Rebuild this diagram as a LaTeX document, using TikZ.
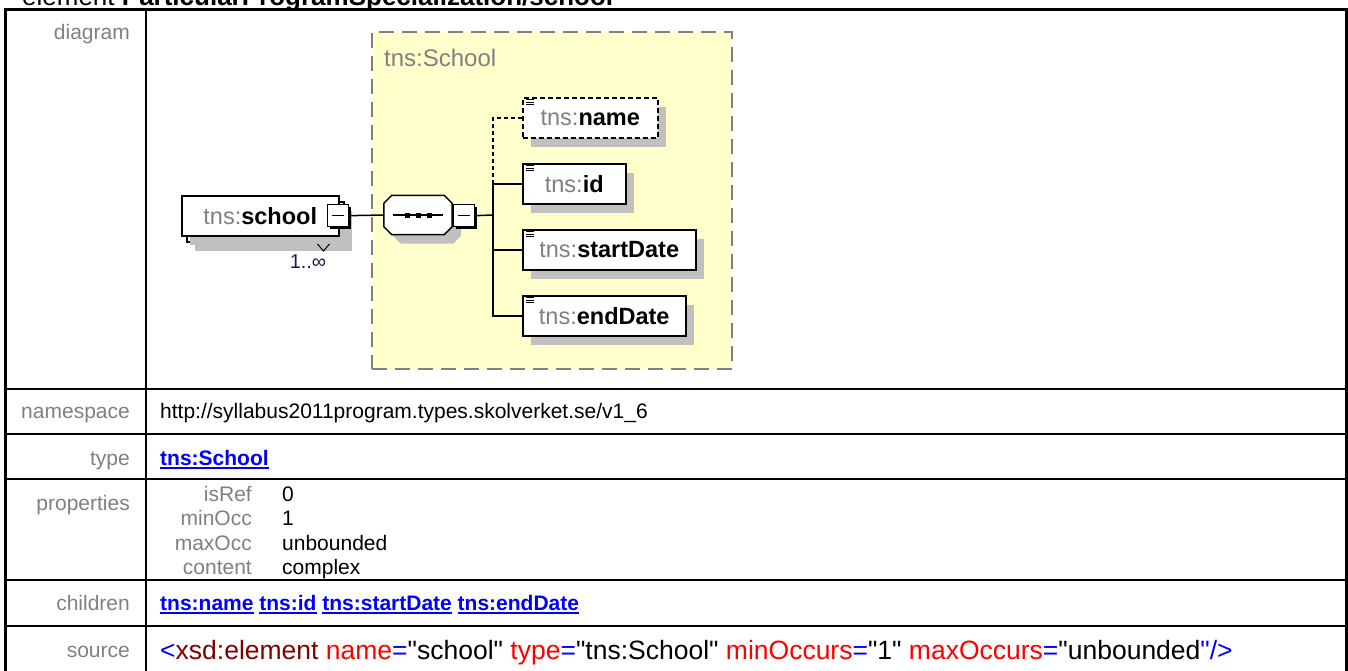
\documentclass[tikz,border=0pt]{standalone}
\usepackage{fontspec}
\setmainfont{Liberation Sans}
\usetikzlibrary{shadows}

\definecolor{lblgray}{RGB}{128,128,128}
\definecolor{typeyellow}{RGB}{255,255,204}
\definecolor{shadowgray}{RGB}{192,192,192}
\definecolor{linkblue}{RGB}{0,0,255}
\definecolor{tagred}{RGB}{128,0,0}
\definecolor{attrred}{RGB}{255,0,0}
\definecolor{occnavy}{RGB}{40,20,80}

\newcommand{\fsz}[1]{\fontsize{#1}{#1}\selectfont}
\newcommand{\tns}[1]{{\color{lblgray}tns:}\textbf{#1}}
\newcommand{\q}{\textquotedbl}
\newsavebox{\linkbox}
\newcommand{\xlink}[1]{{\color{linkblue}\bfseries\sbox{\linkbox}{#1}\rlap{\rule[-3.8pt]{\wd\linkbox}{1.6pt}}\usebox{\linkbox}}}
\newcommand{\octpath}{([xshift=8pt]seq.north west) -- ([xshift=-8pt]seq.north east) -- ([yshift=-8pt]seq.north east)
    -- ([yshift=8pt]seq.south east) -- ([xshift=-8pt]seq.south east) -- ([xshift=8pt]seq.south west)
    -- ([yshift=8pt]seq.south west) -- ([yshift=-8pt]seq.north west) -- cycle}

\begin{document}
\begin{tikzpicture}[
        x=1pt, y=-1pt,
        font=\fsz{21}
    ]
    \tikzset{
        tableline/.style = {line width=2.4pt, line cap=rect},
        lblstyle/.style = {anchor=base east, inner sep=0pt, text=lblgray},
        valstyle/.style = {anchor=base west, inner sep=0pt},
        typebox/.style = {rectangle, anchor=north west, fill=typeyellow, draw=lblgray, line width=2pt,
            dash pattern=on 15pt off 8pt, minimum width=360pt, minimum height=337pt, inner sep=0pt},
        elemnode/.style = {rectangle, anchor=north west, draw, fill=white, line width=1.5pt, inner sep=0pt,
            minimum height=40pt, font=\fsz{23.5},
            drop shadow={fill=shadowgray, opacity=1, shadow xshift=8pt, shadow yshift=-9pt}},
        minusnode/.style = {rectangle, anchor=north west, draw, fill=white, line width=1.3pt, inner sep=0pt,
            minimum width=21pt, minimum height=22pt,
            drop shadow={fill=black, opacity=1, shadow xshift=2pt, shadow yshift=-2pt}},
        seqnode/.style = {rectangle, inner sep=0pt, minimum width=68pt, minimum height=39pt},
        connline/.style = {line width=1.5pt}
    }
    \useasboundingbox (0,0) rectangle (1348,670);
    \clip (0,0) rectangle (1348,670);

    \node[valstyle, font=\fsz{26}] (pagetitle) at (22,5.5) {element \textbf{ParticularProgramSpecialization/school}};

    % table
    \foreach \y in {9.5,389,434,479,580,626}
        \draw[tableline] (5.5,\y) -- (1346.5,\y);
    \foreach \x in {5.5,146,1346.5}
        \draw[tableline] (\x,9.5) -- (\x,675);

    \foreach \t/\y in {diagram/39, namespace/418, type/465, properties/510, children/610, source/657}
        \node[lblstyle] (lbl-\t) at (130,\y) {\t};

    % diagram
    \node[typebox] (schooltype) at (371,31) {};
    \node[anchor=west, inner sep=0pt, text=lblgray, font=\fsz{24}] (typetitle) at (384,58) {tns:School};

    \node[elemnode, minimum width=157pt] (schoolback) at (186,201) {};
    \node[elemnode, minimum width=157pt, drop shadow={opacity=0}] (school) at (181,195) {\tns{school}};
    \node[minusnode] (schoolminus) at (327,204) {\rule[-0.6pt]{12pt}{1.3pt}};
    \draw[line width=1pt] (schoolback.south east) ++(-27,1.5) -- ++(6,7) -- ++(6,-7);
    \node[inner sep=0pt, text=occnavy, font=\fsz{20}] (occurs) at (308,262) {1..∞};

    \node[seqnode] (seq) at (418,215) {};
    \fill[shadowgray, transform canvas={shift={(9pt,-9pt)}}] \octpath;
    \draw[fill=white, line width=1.5pt] \octpath;
    \draw[line width=1.5pt] (seq.center) ++(-25,0) -- ++(50,0);
    \foreach \dx in {-11,0,11}
        \fill (seq.center) ++(\dx-2.5,-2.5) rectangle ++(5,5);
    \node[minusnode] (seqminus) at (453,204) {\rule[-0.6pt]{12pt}{1.3pt}};

    \node[elemnode, minimum width=135pt, dash pattern=on 5pt off 3pt] (name) at (522,97) {\tns{name}};
    \node[elemnode, minimum width=103pt] (id) at (522,163) {\tns{id}};
    \node[elemnode, minimum width=173pt] (startdate) at (522,229) {\tns{startDate}};
    \node[elemnode, minimum width=163pt] (enddate) at (522,295) {\tns{endDate}};
    \foreach \n in {name,id,startdate,enddate}
        \foreach \dy in {2.5,5,7.5}
            \draw[line width=1pt] (\n.north west) ++(4,\dy) -- ++(8,0);

    \coordinate (bar) at (493,215);
    \draw[connline] (schoolminus.east) -- (seq.west);
    \draw[connline] (seqminus.east) -- (bar);
    \draw[connline] (bar) |- (id.west);
    \draw[connline] (bar) |- (startdate.west);
    \draw[connline] (bar) |- (enddate.west);
    \draw[connline, dash pattern=on 4pt off 3pt] (bar |- id.west) |- (name.west);

    % rows
    \node[valstyle] (nsval) at (160,418) {http://syllabus2011program.types.skolverket.se/v1\_6};
    \node[valstyle] (typeval) at (160,465) {\xlink{tns:School}};
    \foreach \k/\v/\y in {isRef/0/501, minOcc/1/525.5, maxOcc/unbounded/550, content/complex/574.5} {
        \node[lblstyle] (prop-\k) at (252,\y) {\k};
        \node[valstyle] (val-\k) at (282,\y) {\v};
    }
    \node[valstyle] (childval) at (160,610) {\xlink{tns:name} \xlink{tns:id} \xlink{tns:startDate} \xlink{tns:endDate}};
    \node[valstyle, font=\fsz{26.5}] (srcval) at (160,659) {\textcolor{linkblue}{<}\textcolor{tagred}{xsd:element}
        \textcolor{attrred}{name}\textcolor{linkblue}{=}\q school\q{}
        \textcolor{attrred}{type}\textcolor{linkblue}{=}\q tns:School\q{}
        \textcolor{attrred}{minOccurs}\textcolor{linkblue}{=}\q 1\q{}
        \textcolor{attrred}{maxOccurs}\textcolor{linkblue}{=}\q unbounded\textcolor{linkblue}{\q/>}};
\end{tikzpicture}
\end{document}
